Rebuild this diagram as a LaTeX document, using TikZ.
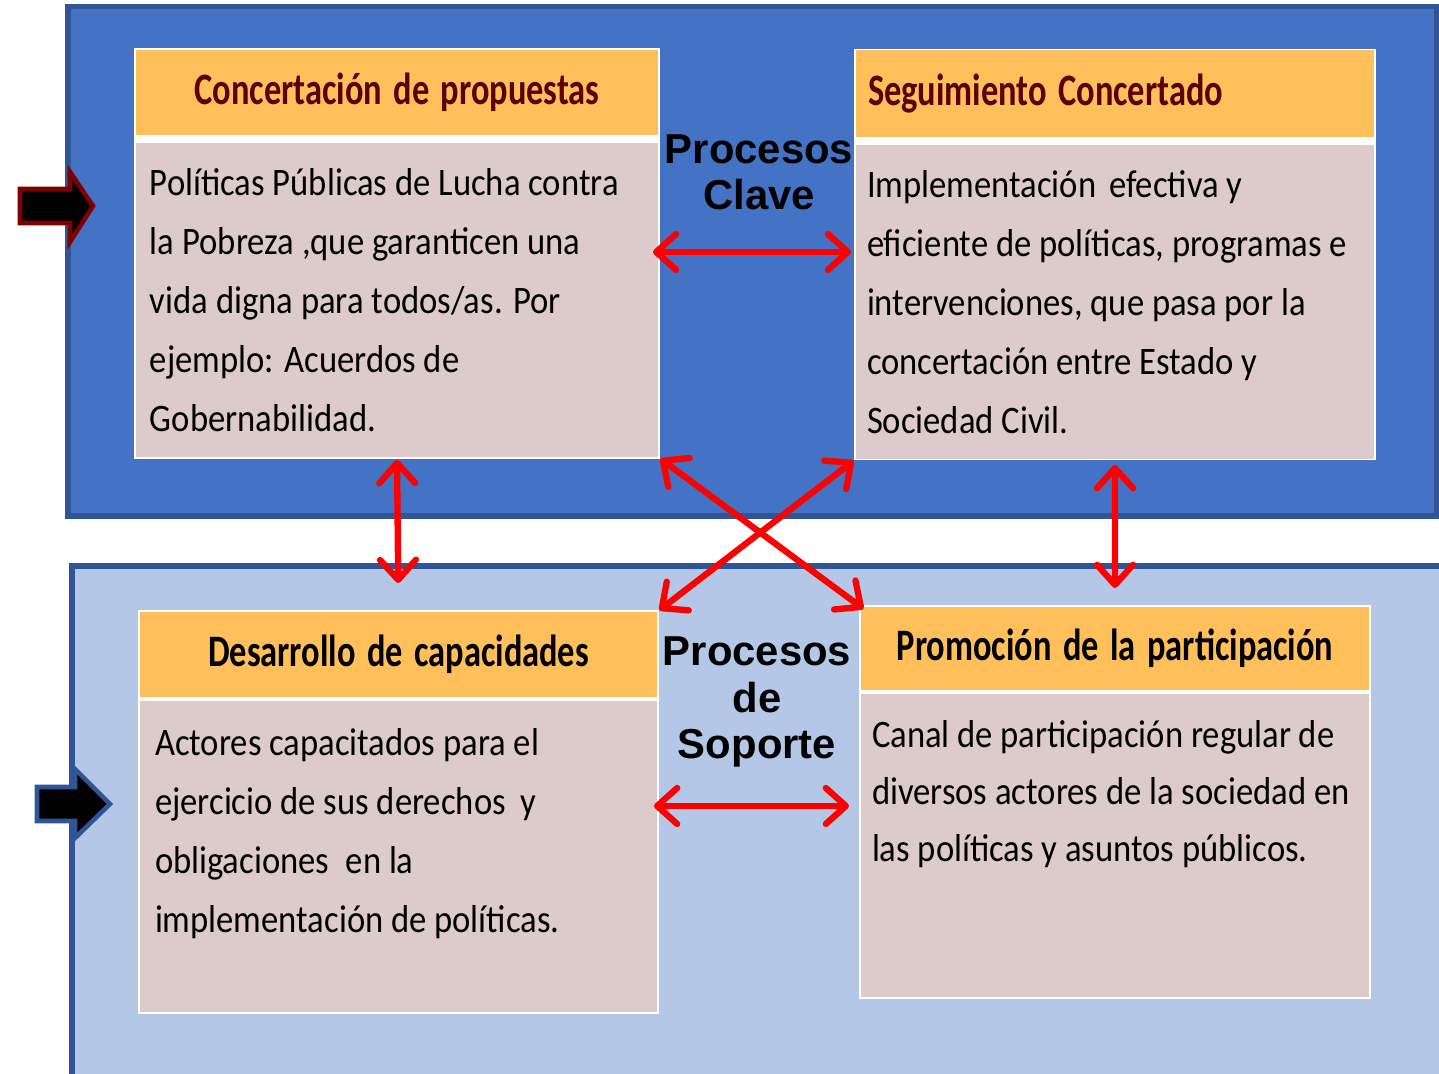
\documentclass[tikz,border=0pt]{standalone}
\usepackage{fontspec}
\usepackage{graphicx}
\setmainfont{Carlito}
\newfontfamily\bodyfont{Carlito}
\newfontfamily\headfont{Carlito}
\newfontfamily\procfont{Liberation Sans}
\usetikzlibrary{positioning,arrows.meta}

\definecolor{panelblue}{HTML}{4472C4}
\definecolor{panelline}{HTML}{2F5597}
\definecolor{panellight}{HTML}{B4C7E7}
\definecolor{headfill}{HTML}{FFBF5A}
\definecolor{bodyfill}{HTML}{DDCBCB}
\definecolor{headred}{HTML}{5C0000}
\definecolor{arrowred}{HTML}{FF0000}
\definecolor{darkmaroon}{HTML}{7F0000}

% fonts of the boxes, and narrow setting of their lines
\newcommand\headsetup{\headfont\bfseries\fontsize{12.8}{14}\selectfont}
\newcommand\bodysetup[1]{\bodyfont\fontsize{11.07}{#1}\selectfont}
\newcommand\squeeze[2]{\scalebox{#1}[1]{#2}}
\newcommand\bodylines[1]{\squeeze{0.89}{\begin{tabular}{@{}l@{}}#1\end{tabular}}}

\begin{document}
\begin{tikzpicture}[
	> = {Straight Barb[length=2mm,width=3.6mm,round]}, % arrow head style
	inner sep = 0pt, outer sep = 0pt, % boxes exactly as large as asked
	panel/.style = {rectangle, draw=panelline, line width=1.6pt, anchor=north west},
	frame/.style = {rectangle, fill=white, anchor=north west},
	head/.style = {rectangle, fill=headfill, font=\headsetup},
	body/.style = {rectangle, fill=bodyfill},
	bodytext/.style = {font=\bodysetup{16.8}},
	proc/.style = {align=center, text width=2.4cm, font=\procfont\bfseries\fontsize{11.9}{13.1}\selectfont},
	dbl/.style = {<->, draw=arrowred, line width=1.8pt}, % red double arrows
	blockarrow/.style = {fill=black, line width=1.3pt, line join=miter}
	]
	
	\useasboundingbox (0,0) rectangle (14.39,10.74);
	\clip (0,0) rectangle (14.39,10.74);
	
	% the two panels
	\node[panel, fill=panelblue, minimum width=13.69cm, minimum height=5.095cm] (topP) at (0.68,10.675) {};
	\node[panel, fill=panellight, minimum width=13.88cm, minimum height=5.28cm] (botP) at (0.72,5.08) {};
	
	% marks on the left
	\draw[blockarrow, draw=darkmaroon] (0.20,8.85) -- (0.70,8.85) -- (0.70,9.02) -- (0.93,8.68)
		-- (0.70,8.32) -- (0.70,8.51) -- (0.20,8.51) -- cycle;
	\draw[blockarrow, draw=panelline] (0.37,2.87) -- (0.75,2.87) -- (0.75,3.05) -- (1.10,2.70)
		-- (0.75,2.36) -- (0.75,2.53) -- (0.37,2.53) -- cycle;
	
	% Concertacion de propuestas
	\node[frame, minimum width=5.26cm, minimum height=4.11cm] (cpF) at (1.34,10.26) {};
	\node[head, text width=5.22cm, minimum height=0.85cm, align=center, text=headred] (cpH) [below=0.02cm of cpF.north] {\squeeze{0.765}{Concertación de propuestas}};
	\node[body, minimum width=5.22cm, minimum height=3.14cm] (cpB) [above=0.02cm of cpF.south] {};
	\node[bodytext] (cpT) [below right=0.11cm and 0.14cm of cpB.north west] {\bodylines{Políticas Públicas de Lucha contra\\la Pobreza ,que garanticen una\\vida digna para todos/as. Por\\ejemplo: Acuerdos de\\Gobernabilidad.}};
	
	% Seguimiento Concertado
	\node[frame, minimum width=5.22cm, minimum height=4.11cm] (scF) at (8.54,10.25) {};
	\node[head, text width=4.94cm, inner xsep=0.12cm, minimum height=0.87cm, align=left, text=headred] (scH) [below=0.01cm of scF.north] {\squeeze{0.765}{Seguimiento Concertado}};
	\node[body, minimum width=5.18cm, minimum height=3.14cm] (scB) [above=0.01cm of scF.south] {};
	\node[bodytext] (scT) [below right=0.11cm and 0.11cm of scB.north west] {\bodylines{Implementación\hspace{0.15em} efectiva y\\eficiente de políticas, programas e\\intervenciones, que pasa por la\\concertación entre Estado y\\Sociedad Civil.}};
	
	% Desarrollo de capacidades
	\node[frame, minimum width=5.21cm, minimum height=4.04cm] (dcF) at (1.38,4.64) {};
	\node[head, text width=5.17cm, minimum height=0.85cm, align=center] (dcH) [below=0.02cm of dcF.north] {\squeeze{0.765}{Desarrollo de capacidades}};
	\node[body, minimum width=5.17cm, minimum height=3.11cm] (dcB) [above=0.02cm of dcF.south] {};
	\node[bodytext] (dcT) [below right=0.13cm and 0.15cm of dcB.north west] {\bodylines{Actores capacitados para el\\ejercicio de sus derechos\hspace{0.2em} y\\obligaciones\hspace{0.25em} en la\\implementación de políticas.}};
	
	% Promocion de la participacion
	\node[frame, minimum width=5.12cm, minimum height=3.94cm] (ppF) at (8.59,4.69) {};
	\node[head, text width=5.08cm, minimum height=0.83cm, align=center] (ppH) [below=0.02cm of ppF.north] {\squeeze{0.765}{Promoción de la participación}};
	\node[body, minimum width=5.08cm, minimum height=3.03cm] (ppB) [above=0.02cm of ppF.south] {};
	\node[bodytext, font=\bodysetup{16.2}] (ppT) [below right=0.14cm and 0.11cm of ppB.north west] {\bodylines{Canal de participación regular de\\diversos actores de la sociedad en\\las políticas y asuntos públicos.}};
	
	% process labels
	\node[proc] (pk) at (7.59,9.02) {Procesos\\Clave};
	\node[proc] (ps) at (7.57,3.72) {Procesos\\de\\Soporte};
	
	\coordinate (clL) at ([yshift=4.8mm]cpB.east);
	\coordinate (soL) at ([yshift=5.05mm]dcB.east);
	
	\draw[dbl, shorten <=-0.05cm, shorten >=0.05cm] (clL) -- (clL -| scB.west);
	\draw[dbl, shorten <=-0.03cm, shorten >=0.12cm] (soL) -- (soL -| ppB.west);
	\draw[dbl, shorten <=0.03cm, shorten >=0.29cm] (cpB.south) -- (dcH.north);
	\draw[dbl, shorten <=0.06cm, shorten >=0.19cm] (scB.south) -- (ppH.north);
	\draw[dbl, shorten <=0.03cm, shorten >=-0.03cm] (cpB.south east) -- (ppH.north west);
	\draw[dbl, shorten <=0.03cm, shorten >=0.03cm] (scB.south west) -- (dcH.north east);
\end{tikzpicture}
\end{document}
